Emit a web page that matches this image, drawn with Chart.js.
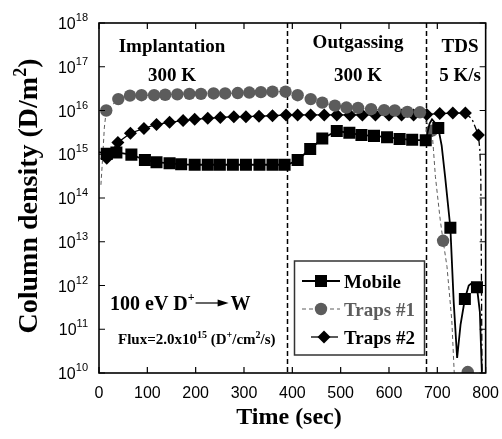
<!DOCTYPE html>
<html>
<head>
<meta charset="utf-8">
<script src="https://cdn.jsdelivr.net/npm/chart.js@4.4.1/dist/chart.umd.min.js"></script>
<style>
  html, body { margin: 0; padding: 0; background: #fff; }
  #wrap { width: 502px; height: 439px; }
</style>
</head>
<body>
<div id="wrap"><canvas id="chart" width="502" height="439"></canvas></div>
<script>
// Data (time in sec, column density in D/m^2)
const mobileTime = [0, 16, 36, 67, 95, 119, 146, 170, 198, 225, 250, 277, 304, 332, 359, 384, 392,
    411, 437, 462, 492, 518, 543, 569, 596, 622, 648, 676, 684, 689, 695, 702, 709, 716, 727,
    734, 741, 748, 757, 765, 772, 782, 788, 792, 795];
const mobileDensity = [1.12e15, 1.02e15, 1.10e15, 9.8e14, 7.4e14, 6.6e14, 6.2e14, 5.9e14, 5.75e14, 5.75e14, 5.75e14, 5.75e14, 5.75e14, 5.75e14, 5.75e14, 5.75e14, 5.9e14,
    7.4e14, 1.32e15, 2.29e15, 3.39e15, 3.09e15, 2.75e15, 2.63e15, 2.45e15, 2.24e15, 2.14e15, 2.09e15, 5.0e15, 6.3e15, 5.25e15, 3.98e15, 1.58e15, 3.16e14, 2.09e13,
    4.0e11, 2.2e10, 1.26e11, 4.9e11, 1.0e12, 1.15e12, 9.1e11, 2.5e11, 1.17e10, 1e9];
const mobileMarkers = [16, 36, 67, 95, 119, 146, 170, 198, 225, 250, 277, 304, 332, 359, 384,
    411, 437, 462, 492, 518, 543, 569, 596, 622, 648, 676, 702, 727, 757, 782];

const traps1Time = [4, 8, 11, 15, 40, 64, 88, 114, 137, 162, 187, 211, 237, 261, 287, 311, 335, 359, 386,
    411, 438, 462, 488, 512, 536, 563, 590, 612, 638, 664, 689, 692, 696, 706, 712, 720, 730, 735, 740, 763];
const traps1Density = [2.0e14, 1.0e15, 4.0e15, 1.0e16, 1.82e16, 2.19e16, 2.24e16, 2.24e16, 2.29e16, 2.34e16, 2.4e16, 2.4e16, 2.45e16, 2.45e16, 2.51e16, 2.57e16, 2.63e16, 2.69e16, 2.69e16,
    2.24e16, 1.82e16, 1.51e16, 1.29e16, 1.17e16, 1.15e16, 1.07e16, 1.02e16, 1.0e16, 9.3e15, 9.1e15, 3.47e15, 1.26e15, 3.1e14, 3.16e13, 1.05e13, 2.7e12, 1.58e11, 1.0e10, 1e9, 1.05e10];
const traps1Markers = [15, 40, 64, 88, 114, 137, 162, 187, 211, 237, 261, 287, 311, 335, 359, 386,
    411, 438, 462, 488, 512, 536, 563, 590, 612, 638, 664, 689, 712, 763];

const traps2Time = [16, 39, 65, 93, 119, 146, 174, 198, 225, 251, 279, 304, 331, 359, 387,
    411, 438, 466, 492, 519, 545, 572, 600, 626, 651, 678, 705, 732, 758, 772, 785, 788, 790, 793];
const traps2Density = [8.1e14, 1.86e15, 3.02e15, 3.89e15, 4.79e15, 5.37e15, 5.89e15, 6.31e15, 6.61e15, 6.92e15, 7.24e15, 7.24e15, 7.41e15, 7.59e15, 7.94e15,
    7.94e15, 7.94e15, 7.94e15, 7.94e15, 7.94e15, 7.94e15, 7.94e15, 7.94e15, 7.94e15, 7.94e15, 8.13e15, 8.51e15, 8.71e15, 8.71e15, 6.3e15, 2.75e15, 1.26e15, 3.2e14, 1e9];
const traps2Markers = [16, 39, 65, 93, 119, 146, 174, 198, 225, 251, 279, 304, 331, 359, 387,
    411, 438, 466, 492, 519, 545, 572, 600, 626, 651, 678, 705, 732, 758, 785];

const yTicks = [1e10, 1e11, 1e12, 1e13, 1e14, 1e15, 1e16, 1e17, 1e18];
const phaseBounds = [390, 677];
const phaseLabels = [
    { text: 'Implantation', sub: '300 K', at: 172 },
    { text: 'Outgassing', sub: '300 K', at: 358 },
    { text: 'TDS', sub: '5 K/s', at: 460 }
];

const SERIF = "'Liberation Serif', 'Times New Roman', serif";
const NARROW = "'Liberation Sans Narrow', 'Arial Narrow', 'Liberation Sans', sans-serif";
const GRAY = '#5c5c5c';

const toPoints = (ts, vs) => ts.map((t, i) => ({ x: t, y: vs[i] }));
const markerRadius = (marks, r) => (c) => (c.raw && marks.includes(c.raw.x) ? r : 0);

// Draw a run of text pieces (some raised as superscripts)
function drawRuns(ctx, runs, x, y, align) {
    let total = 0;
    runs.forEach(r => { ctx.font = `bold ${r[1]}px ${SERIF}`; total += ctx.measureText(r[0]).width; });
    let cx = align === 'center' ? x - total / 2 : x;
    ctx.textAlign = 'left';
    ctx.textBaseline = 'alphabetic';
    runs.forEach(r => {
        ctx.font = `bold ${r[1]}px ${SERIF}`;
        ctx.fillText(r[0], cx, y - r[2]);
        cx += ctx.measureText(r[0]).width;
    });
    return cx;
}

const decor = {
    id: 'decor',
    beforeDatasetsDraw(chart) {
        const { ctx, chartArea: a, scales: { x } } = chart;
        ctx.save();
        ctx.strokeStyle = '#000';
        ctx.lineWidth = 1.5;
        ctx.setLineDash([5, 3]);
        phaseBounds.forEach(t => {
            const px = Math.round(x.getPixelForValue(t)) + 0.5;
            ctx.beginPath();
            ctx.moveTo(px, a.top);
            ctx.lineTo(px, a.bottom);
            ctx.stroke();
        });
        ctx.setLineDash([]);
        ctx.fillStyle = '#000';
        phaseLabels.forEach((p, i) => {
            drawRuns(ctx, [[p.text, 19, 0]], p.at, i === 1 ? 48 : 52, 'center');
            drawRuns(ctx, [[p.sub, 19, 0]], p.at, 81, 'center');
        });
        // beam note
        let cx = drawRuns(ctx, [['100 eV D', 20, 0], ['+', 12, 9]], 110, 310, 'left');
        const ay = 303;
        ctx.lineWidth = 1.2;
        ctx.beginPath();
        ctx.moveTo(cx + 1, ay);
        ctx.lineTo(cx + 26, ay);
        ctx.stroke();
        ctx.beginPath();
        ctx.moveTo(cx + 34, ay);
        ctx.lineTo(cx + 23, ay - 3.5);
        ctx.lineTo(cx + 23, ay + 3.5);
        ctx.closePath();
        ctx.fill();
        drawRuns(ctx, [['W', 20, 0]], cx + 36, 310, 'left');
        drawRuns(ctx, [['Flux=2.0x10', 15, 0], ['15', 10, 6], [' (D', 15, 0], ['+', 10, 6],
            ['/cm', 15, 0], ['2', 10, 6], ['/s)', 15, 0]], 118, 344, 'left');
        ctx.restore();
    },
    afterDatasetsDraw(chart) {
        const { ctx, chartArea: a, scales: { x, y } } = chart;
        ctx.save();
        // frame
        ctx.strokeStyle = '#000';
        ctx.lineWidth = 1.6;
        ctx.strokeRect(a.left, a.top, a.right - a.left, a.bottom - a.top);
        // inner ticks
        ctx.lineWidth = 1.2;
        ctx.beginPath();
        x.ticks.forEach(tk => {
            const px = x.getPixelForValue(tk.value);
            ctx.moveTo(px, a.bottom); ctx.lineTo(px, a.bottom - 6);
            ctx.moveTo(px, a.top); ctx.lineTo(px, a.top + 6);
        });
        y.ticks.forEach(tk => {
            const py = y.getPixelForValue(tk.value);
            ctx.moveTo(a.left, py); ctx.lineTo(a.left + 6, py);
            ctx.moveTo(a.right, py); ctx.lineTo(a.right - 6, py);
        });
        ctx.stroke();
        // y tick labels 10^n
        ctx.fillStyle = '#000';
        ctx.textBaseline = 'alphabetic';
        y.ticks.forEach(tk => {
            const py = y.getPixelForValue(tk.value);
            const exp = String(Math.round(Math.log10(tk.value)));
            ctx.font = `11px ${NARROW}`;
            const ew = ctx.measureText(exp).width;
            ctx.textAlign = 'left';
            ctx.fillText(exp, 88 - ew, py - 2);
            ctx.font = `16px ${NARROW}`;
            ctx.textAlign = 'right';
            ctx.fillText('10', 88 - ew, py + 6);
        });
        // axis titles
        drawRuns(ctx, [['Time (sec)', 24, 0]], 289, 424, 'center');
        ctx.save();
        ctx.translate(37, 196);
        ctx.rotate(-Math.PI / 2);
        drawRuns(ctx, [['Column density (D/m', 28, 0], ['2', 18, 11], [')', 28, 0]], 0, 0, 'center');
        ctx.restore();
        // legend box
        ctx.lineWidth = 1.5;
        ctx.strokeStyle = '#333';
        ctx.strokeRect(294.5, 261, 130, 94);
        const rows = [
            { label: 'Mobile', color: '#000', dash: [], lw: 2, from: 302, to: 340, style: 'rect', r: 8.5, mx: 321, y: 281 },
            { label: 'Traps #1', color: GRAY, dash: [4, 3], lw: 1, from: 302, to: 340, style: 'circle', r: 6.2, mx: 321, y: 309 },
            { label: 'Traps #2', color: '#000', dash: [], lw: 1.3, from: 311, to: 338, style: 'rectRot', r: 6.5, mx: 324, y: 337 }
        ];
        rows.forEach(r => {
            ctx.strokeStyle = r.color;
            ctx.fillStyle = r.color;
            ctx.lineWidth = r.lw;
            ctx.setLineDash(r.dash);
            ctx.beginPath();
            ctx.moveTo(r.from, r.y);
            ctx.lineTo(r.to, r.y);
            ctx.stroke();
            ctx.setLineDash([]);
            Chart.helpers.drawPoint(ctx, { pointStyle: r.style, radius: r.r, rotation: 0, borderWidth: 0 }, r.mx, r.y);
            drawRuns(ctx, [[r.label, 19, 0]], 344, r.y + 6.5, 'left');
        });
        ctx.restore();
    }
};

new Chart(document.getElementById('chart'), {
    type: 'line',
    data: {
        datasets: [
            {
                label: 'Mobile',
                data: toPoints(mobileTime, mobileDensity),
                borderColor: '#000',
                borderWidth: 1.8,
                backgroundColor: '#000',
                pointStyle: 'rect',
                pointRadius: markerRadius(mobileMarkers, 8.5),
                pointBorderWidth: 0,
                pointHoverRadius: 0
            },
            {
                label: 'Traps #1',
                data: toPoints(traps1Time, traps1Density),
                borderColor: GRAY,
                borderWidth: 1,
                borderDash: [4, 3],
                backgroundColor: GRAY,
                pointStyle: 'circle',
                pointRadius: markerRadius(traps1Markers, 6.2),
                pointBorderWidth: 0,
                pointHoverRadius: 0
            },
            {
                label: 'Traps #2',
                data: toPoints(traps2Time, traps2Density),
                borderColor: '#000',
                borderWidth: 1.3,
                backgroundColor: '#000',
                pointStyle: 'rectRot',
                pointRadius: markerRadius(traps2Markers, 6.5),
                pointBorderWidth: 0,
                pointHoverRadius: 0,
                segment: {
                    borderDash: c => (c.p0.parsed.x >= 758 ? [7, 3, 2, 3] : undefined)
                }
            }
        ]
    },
    options: {
        responsive: false,
        animation: false,
        events: [],
        layout: { padding: { top: 23, right: 15, left: 0, bottom: 0 } },
        plugins: { legend: { display: false }, tooltip: { enabled: false } },
        scales: {
            x: {
                type: 'linear',
                min: 0,
                max: 800,
                ticks: { stepSize: 100, color: '#000', padding: 3, font: { family: NARROW, size: 16 } },
                grid: { display: false },
                border: { display: false },
                afterFit: s => { s.height = 66; }
            },
            y: {
                type: 'logarithmic',
                min: 1e10,
                max: 1e18,
                afterBuildTicks: s => { s.ticks = yTicks.map(v => ({ value: v })); },
                ticks: { display: false },
                grid: { display: false },
                border: { display: false },
                afterFit: s => { s.width = 99; }
            }
        }
    },
    plugins: [decor]
});
</script>
</body>
</html>
